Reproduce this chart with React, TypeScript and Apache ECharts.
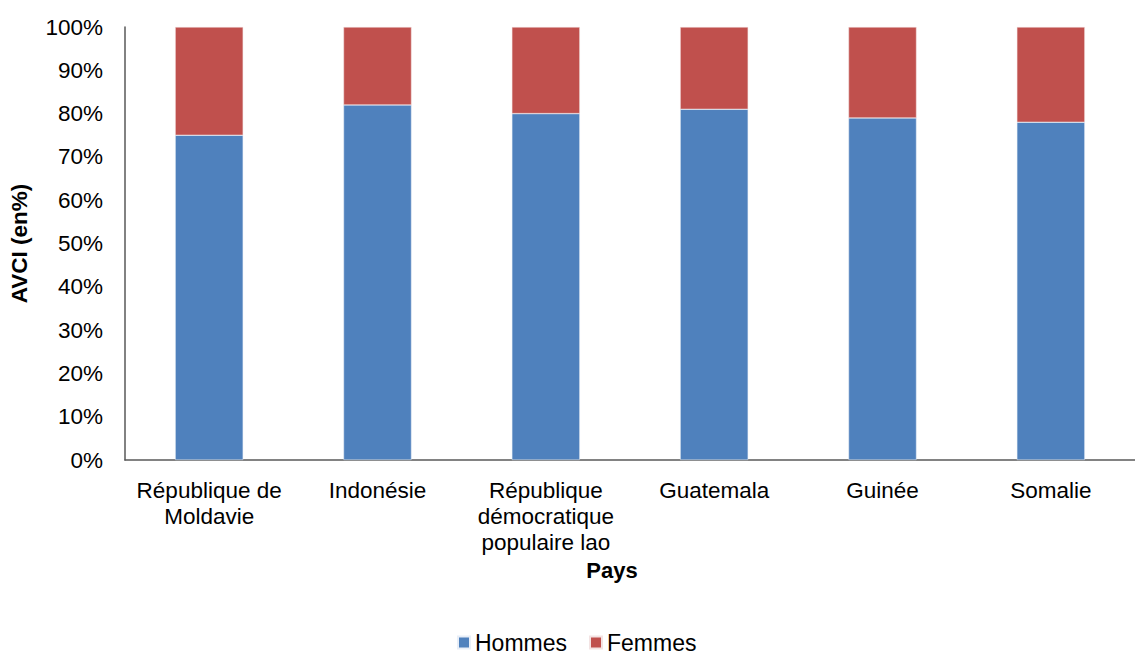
import React, { useEffect, useRef } from "react";
import * as echarts from "echarts";

const categories = [
  "République de\nMoldavie",
  "Indonésie",
  "République\ndémocratique\npopulaire lao",
  "Guatemala",
  "Guinée",
  "Somalie",
];
const hommes = [75, 82, 80, 81, 79, 78];
const femmes = [25, 18, 20, 19, 21, 22];
const yTicks = [0, 10, 20, 30, 40, 50, 60, 70, 80, 90, 100];

export default function App() {
  const ref = useRef<HTMLDivElement>(null);
  useEffect(() => {
    document.body.style.margin = "0";
    document.body.style.overflow = "hidden";
    const chart = echarts.init(ref.current!, null, { renderer: "svg" });
    const font = "'Liberation Sans', Arial, sans-serif";
    chart.setOption({
      animation: false,
      textStyle: { fontFamily: font },
      grid: { left: 125, right: -15, top: 27, bottom: 195, containLabel: false },
      legend: {
        top: 631,
        left: 457,
        padding: 0,
        icon: "rect",
        itemWidth: 12,
        itemHeight: 12,
        itemGap: 22,
        textStyle: { fontSize: 23, color: "#000", fontFamily: font },
        data: ["Hommes", "Femmes"],
      },
      xAxis: {
        type: "category",
        data: categories,
        name: "Pays",
        nameLocation: "middle",
        nameGap: 98,
        nameTextStyle: { fontSize: 22, fontWeight: "bold", color: "#000", fontFamily: font, padding: [0, 36, 0, 0] },
        axisLine: { lineStyle: { color: "#595959", width: 1.5 } },
        axisTick: { show: false },
        axisLabel: { fontSize: 22.5, color: "#000", lineHeight: 26, margin: 17, interval: 0, fontFamily: font },
      },
      yAxis: {
        type: "value",
        min: yTicks[0],
        max: yTicks[yTicks.length - 1],
        interval: 10,
        name: "AVCI (en%)",
        nameLocation: "middle",
        nameGap: 94,
        nameTextStyle: { fontSize: 22.5, fontWeight: "bold", color: "#000", fontFamily: font },
        axisLine: { show: true, lineStyle: { color: "#595959", width: 1.5 } },
        axisTick: { show: false },
        splitLine: { show: false },
        axisLabel: { fontSize: 22.5, color: "#000", margin: 22, formatter: "{value}%", fontFamily: font },
      },
      series: [
        {
          name: "Hommes",
          type: "bar",
          stack: "total",
          data: hommes,
          barWidth: 68,
          itemStyle: { color: "#4F81BD", borderColor: "#e8eef7", borderWidth: 0.5 },
        },
        {
          name: "Femmes",
          type: "bar",
          stack: "total",
          data: femmes,
          barWidth: 68,
          itemStyle: { color: "#C0504D", borderColor: "#f3e3e3", borderWidth: 0.5 },
        },
      ],
    });
    return () => chart.dispose();
  }, []);
  return <div ref={ref} style={{ position: "absolute", left: 0, top: 0, width: 1135, height: 655 }} />;
}
